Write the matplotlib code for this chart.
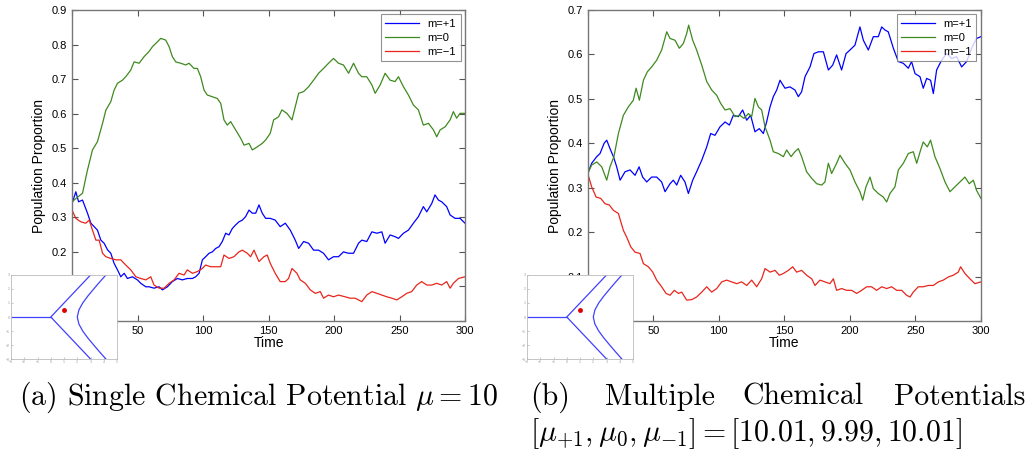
import numpy as np
import matplotlib
matplotlib.use('Agg')
import matplotlib.pyplot as plt

plt.rcParams['font.family'] = ['Liberation Sans', 'DejaVu Sans']
plt.rcParams['mathtext.fontset'] = 'cm'

# ---- (a) single chemical potential, readings (time, proportion) ----
a_plus_t = [0, 2.9, 5, 8, 11.8, 14.4, 16.9, 19.4, 22, 24.5, 27.1, 29.6, 32.1, 34.7,
            37.2, 39.8, 42.3, 46.1, 49.9, 52.5, 56.3, 58.8, 62.6, 66.5, 69, 72.8,
            76.6, 80.4, 84.2, 88, 91.9, 94.4, 97, 99.5, 102, 104.6, 107.1, 109.7,
            112.2, 114.7, 117.3, 119.8, 122.4, 124.9, 127.4, 130, 132.5, 135.1,
            137.6, 140.2, 142.7, 145.2, 147.8, 151.3, 155.1, 158.9, 162.8, 166.6,
            170.4, 173, 176.8, 180.6, 184.4, 188.2, 192, 195.8, 199.6, 203.4,
            207.2, 211.1, 214.9, 218.7, 221.2, 225, 228.9, 232.7, 236.5, 239,
            242.8, 246.6, 249.2, 253, 256.8, 260.6, 264.4, 268.2, 270.8, 274.6,
            277.1, 279.7, 282.2, 286, 288.6, 292.4, 296.2, 300]
a_plus = [0.34, 0.374, 0.345, 0.35, 0.312, 0.283, 0.273, 0.263, 0.234, 0.225, 0.206,
          0.196, 0.167, 0.148, 0.128, 0.138, 0.123, 0.128, 0.119, 0.109, 0.099,
          0.099, 0.095, 0.099, 0.09, 0.099, 0.114, 0.123, 0.119, 0.123, 0.123,
          0.128, 0.138, 0.177, 0.186, 0.196, 0.2, 0.21, 0.215, 0.23, 0.254, 0.249,
          0.268, 0.278, 0.287, 0.292, 0.302, 0.321, 0.312, 0.312, 0.336, 0.312,
          0.297, 0.297, 0.292, 0.273, 0.283, 0.263, 0.234, 0.21, 0.23, 0.225,
          0.205, 0.205, 0.196, 0.177, 0.186, 0.186, 0.2, 0.196, 0.196, 0.225,
          0.234, 0.23, 0.258, 0.254, 0.258, 0.225, 0.249, 0.244, 0.239, 0.254,
          0.263, 0.283, 0.302, 0.331, 0.316, 0.34, 0.365, 0.35, 0.345, 0.331,
          0.307, 0.297, 0.297, 0.283]

a_zero_t = [0, 8, 11.8, 15.6, 19.4, 23.3, 25.8, 29.6, 32.1, 34.7, 38.5, 41, 44.8,
            47.4, 51.2, 55, 58.8, 61.4, 65.2, 67.7, 71.5, 74.1, 76.6, 79.2, 83,
            86.8, 89.3, 93.1, 95.7, 98.2, 100.8, 103.3, 107.1, 110.9, 113.5, 116,
            118.5, 121.1, 124.9, 128.7, 131.3, 135.1, 137.6, 141.4, 145.2, 147.8,
            151.3, 153.9, 157.7, 160.2, 164, 167.9, 170.4, 173, 176.8, 180.6, 184.4,
            188.2, 192, 195.8, 199.6, 203.4, 207.2, 211.1, 214.9, 218.7, 221.2, 225,
            228.9, 231.4, 235.2, 239, 242.8, 246.6, 249.2, 253, 256.8, 260.6, 264.4,
            268.2, 272.1, 275.9, 278.4, 281, 284.8, 288.6, 291.1, 293.6, 296.2, 300]
a_zero = [0.345, 0.37, 0.437, 0.495, 0.519, 0.572, 0.61, 0.635, 0.668, 0.688, 0.697,
          0.707, 0.726, 0.75, 0.746, 0.765, 0.78, 0.794, 0.808, 0.818, 0.813, 0.794,
          0.765, 0.75, 0.746, 0.741, 0.746, 0.731, 0.731, 0.707, 0.668, 0.654,
          0.649, 0.644, 0.63, 0.582, 0.567, 0.577, 0.553, 0.529, 0.509, 0.514,
          0.495, 0.504, 0.514, 0.524, 0.543, 0.582, 0.591, 0.611, 0.601, 0.582,
          0.62, 0.659, 0.664, 0.678, 0.697, 0.717, 0.731, 0.746, 0.76, 0.746,
          0.741, 0.717, 0.746, 0.717, 0.707, 0.707, 0.683, 0.659, 0.683, 0.717,
          0.697, 0.693, 0.707, 0.678, 0.654, 0.625, 0.611, 0.567, 0.572, 0.553,
          0.533, 0.553, 0.562, 0.582, 0.606, 0.587, 0.601, 0.601]

a_minus_t = [0, 2.9, 6.7, 10.5, 13.1, 15.6, 18.2, 20.7, 23.3, 25.8, 29.6, 33.4, 37.2,
             41, 44.8, 48.7, 52.5, 56.3, 60.1, 62.6, 66.5, 70.3, 74.1, 77.9, 81.7,
             85.5, 88, 91.9, 95.7, 99.5, 102, 105.8, 109.7, 113.5, 116, 119.8, 123.6,
             127.4, 130, 133.8, 136.3, 138.9, 142.7, 146.5, 149, 151.3, 155.1, 158.9,
             162.8, 165.3, 167.9, 171.7, 174.2, 178.1, 181.9, 185.7, 189.5, 192,
             195.8, 199.6, 203.4, 208.5, 212.3, 216.1, 221.2, 225, 228.9, 232.7,
             236.5, 240.3, 244.1, 247.9, 251.7, 255.5, 259.3, 263.1, 266.9, 270.8,
             274.6, 278.4, 282.2, 286, 288.6, 291.1, 295, 300]
a_minus = [0.321, 0.297, 0.287, 0.283, 0.292, 0.263, 0.234, 0.234, 0.196, 0.186,
           0.181, 0.177, 0.177, 0.162, 0.148, 0.128, 0.123, 0.119, 0.128, 0.104,
           0.095, 0.095, 0.109, 0.119, 0.138, 0.133, 0.148, 0.138, 0.143, 0.152,
           0.162, 0.157, 0.157, 0.157, 0.191, 0.181, 0.186, 0.2, 0.205, 0.196,
           0.186, 0.205, 0.172, 0.186, 0.191, 0.167, 0.138, 0.114, 0.114, 0.123,
           0.152, 0.138, 0.119, 0.109, 0.09, 0.08, 0.085, 0.066, 0.075, 0.07,
           0.075, 0.07, 0.066, 0.066, 0.056, 0.075, 0.085, 0.08, 0.075, 0.07,
           0.066, 0.061, 0.07, 0.08, 0.085, 0.104, 0.114, 0.104, 0.104, 0.109,
           0.104, 0.114, 0.095, 0.109, 0.123, 0.128]

# ---- (b) multiple chemical potentials, readings (time, proportion) ----
b_plus_t = [0, 3, 6.9, 9.4, 12.5, 14.5, 17, 19.6, 22.1, 24.7, 28.5, 32.3, 36.1, 39.2,
            41.9, 45, 48.8, 52.6, 56.4, 59, 62.8, 65.3, 67.9, 70.9, 74.2, 76.8, 80.1,
            83.1, 87, 90.8, 93.8, 97.1, 100.9, 104.8, 108.1, 111.1, 114.9, 118.2,
            121.3, 124.3, 127.6, 130.9, 134, 136.5, 139.1, 141.6, 144.2, 146.7,
            150.5, 154.3, 158.1, 160.7, 163.2, 165.8, 169.6, 172.6, 176, 179.8,
            183.6, 186.9, 189.9, 193.7, 197.1, 200.1, 203.9, 207.7, 210.3, 214.1,
            217.9, 221.7, 224.3, 226.8, 229.3, 233.2, 237, 240.8, 244.6, 247.1,
            249.7, 253.5, 256, 258.6, 261.6, 263.7, 266.2, 270, 273.8, 277.7, 281.5,
            285.3, 289.1, 292.9, 296.7, 300]
b_plus = [0.332, 0.355, 0.37, 0.377, 0.4, 0.407, 0.388, 0.37, 0.347, 0.317, 0.336,
          0.34, 0.328, 0.347, 0.324, 0.313, 0.324, 0.324, 0.313, 0.291, 0.309,
          0.317, 0.306, 0.328, 0.313, 0.287, 0.317, 0.336, 0.362, 0.392, 0.422,
          0.418, 0.437, 0.448, 0.441, 0.463, 0.46, 0.475, 0.452, 0.463, 0.426,
          0.433, 0.422, 0.448, 0.482, 0.505, 0.52, 0.542, 0.524, 0.527, 0.52,
          0.505, 0.516, 0.55, 0.572, 0.602, 0.606, 0.606, 0.565, 0.576, 0.599,
          0.565, 0.602, 0.61, 0.621, 0.662, 0.632, 0.61, 0.64, 0.64, 0.662, 0.655,
          0.651, 0.614, 0.584, 0.58, 0.569, 0.584, 0.557, 0.55, 0.524, 0.546,
          0.542, 0.512, 0.565, 0.587, 0.602, 0.591, 0.595, 0.572, 0.584, 0.614,
          0.636, 0.64]

b_zero_t = [0, 3, 6.9, 10.7, 14.5, 17, 20, 23.4, 27.2, 31, 34.8, 36.9, 39.4, 42.5,
            45.5, 48.8, 52.6, 56.4, 60.3, 62.8, 66.6, 69.9, 73, 75.5, 77, 80.1, 83.1,
            87, 90.8, 94.6, 98.4, 101.4, 104.8, 108.6, 112.4, 116.2, 119.2, 122.6,
            125.1, 127.6, 130.2, 132.7, 135.3, 139.1, 141.6, 145.4, 149.3, 151.8,
            155.1, 158.1, 160.7, 163.2, 167, 170.9, 174.7, 178.5, 181, 183.6, 186.1,
            189.9, 192.5, 196.3, 200.1, 203.9, 207.7, 209.8, 212.3, 215.4, 217.9,
            221.7, 225.5, 228.1, 230.6, 234.4, 237, 240.8, 244.6, 248.4, 251, 254,
            256, 259.1, 261.6, 264.9, 268.8, 272.6, 276.4, 280.2, 284, 287.8, 291.1,
            294.2, 296.7, 300]
b_zero = [0.332, 0.351, 0.358, 0.347, 0.317, 0.347, 0.37, 0.422, 0.463, 0.482,
          0.497, 0.524, 0.497, 0.542, 0.561, 0.572, 0.587, 0.61, 0.651, 0.636,
          0.632, 0.614, 0.625, 0.647, 0.666, 0.632, 0.61, 0.576, 0.539, 0.52,
          0.508, 0.49, 0.475, 0.478, 0.46, 0.463, 0.456, 0.467, 0.46, 0.501, 0.482,
          0.475, 0.437, 0.407, 0.381, 0.377, 0.37, 0.385, 0.37, 0.381, 0.388, 0.37,
          0.336, 0.321, 0.309, 0.306, 0.313, 0.355, 0.332, 0.355, 0.373, 0.355,
          0.34, 0.313, 0.291, 0.272, 0.302, 0.324, 0.298, 0.287, 0.279, 0.268,
          0.287, 0.302, 0.34, 0.355, 0.377, 0.381, 0.355, 0.385, 0.403, 0.392,
          0.407, 0.37, 0.343, 0.313, 0.291, 0.302, 0.313, 0.324, 0.309, 0.317,
          0.294, 0.276]

b_minus_t = [0, 3, 6.4, 9.9, 13.2, 16.5, 19.6, 23.4, 27.2, 29.7, 32.8, 36.1, 39.9,
             42.5, 46.3, 49.6, 52.6, 56.4, 59.8, 62.8, 66.1, 69.2, 71.7, 75.5, 79.3,
             83.1, 87, 90.8, 94.6, 98.4, 102.2, 106, 109.8, 113.7, 117.5, 121.3,
             125.1, 128.9, 132.7, 135.3, 139.1, 142.9, 146.2, 149.3, 153.1, 156.4,
             159.4, 163.2, 167, 170.9, 173.4, 177.2, 181, 184.8, 187.4, 189.9, 193.7,
             197.6, 201.4, 205.2, 209, 212.8, 216.6, 220.4, 224.3, 228.1, 231.9,
             235.7, 239.5, 243.3, 245.9, 248.4, 252.2, 256, 259.9, 263.7, 267.5,
             271.3, 275.1, 278.9, 282.7, 284.5, 287.8, 291.6, 295.4, 300]
b_minus = [0.332, 0.302, 0.279, 0.276, 0.264, 0.261, 0.249, 0.242, 0.204, 0.189,
           0.167, 0.155, 0.152, 0.129, 0.122, 0.11, 0.092, 0.077, 0.062, 0.058,
           0.069, 0.062, 0.065, 0.047, 0.048, 0.054, 0.065, 0.077, 0.065, 0.073,
           0.088, 0.092, 0.088, 0.084, 0.088, 0.08, 0.092, 0.077, 0.095, 0.118,
           0.11, 0.114, 0.103, 0.107, 0.114, 0.122, 0.11, 0.114, 0.103, 0.095,
           0.08, 0.092, 0.088, 0.084, 0.095, 0.069, 0.073, 0.069, 0.069, 0.062,
           0.069, 0.077, 0.077, 0.069, 0.077, 0.073, 0.077, 0.069, 0.069, 0.058,
           0.054, 0.065, 0.077, 0.077, 0.08, 0.08, 0.088, 0.092, 0.099, 0.103,
           0.11, 0.122, 0.107, 0.095, 0.084, 0.088]

labels = ['m=+1', 'm=0', 'm=\u22121']
colors = ['#0000ff', '#3f8a1f', '#e8261c']

# inset sketch: axis branch, asymptote branches, hyperbola and the chosen point
branch_x = [-3, 0]
branch_y = [0, 0]
vee_x = [3, 0, 3]
vee_y = [3, 0, -3]
hyp_y = [-3, -2.5, -2, -1.5, -1, -0.5, 0, 0.5, 1, 1.5, 2, 2.5, 3]
hyp_x = [4.16, 3.69, 3.24, 2.80, 2.41, 2.12, 2.0, 2.12, 2.41, 2.80, 3.24, 3.69, 4.16]
point = (1, 0.5)

fig = plt.figure(figsize=(10.32, 4.5), dpi=100)

panels = [
    ([0.0698, 0.2867, 0.3808, 0.691],
     [(a_plus_t, a_plus), (a_zero_t, a_zero), (a_minus_t, a_minus)], 0.9),
    ([0.5695, 0.2867, 0.381, 0.691],
     [(b_plus_t, b_plus), (b_zero_t, b_zero), (b_minus_t, b_minus)], 0.7),
]
insets = [[0.0107, 0.2022, 0.1027, 0.1867], [0.5107, 0.2022, 0.1027, 0.1867]]

for (pos, series, ytop), ipos in zip(panels, insets):
    ax = fig.add_axes(pos)
    for (x, y), c, lab in zip(series, colors, labels):
        ax.plot(x, y, color=c, lw=0.9, label=lab)
    ax.set_xlim(0, 300)
    ax.set_ylim(0, ytop)
    ax.set_xticks(range(0, 301, 50))
    yt = np.arange(0, ytop + 0.001, 0.1)
    ax.set_yticks(yt)
    ax.set_yticklabels(['0'] + ['%.1f' % v for v in yt[1:]])
    ax.tick_params(direction='in', top=True, right=True, labelsize=8, length=4,
                   color='#555555', width=0.8)
    for sp in ax.spines.values():
        sp.set_color('#777777')
        sp.set_linewidth(1.0)
    ax.set_xlabel('Time', fontsize=10, labelpad=0)
    ax.set_ylabel('Population Proportion', fontsize=10, labelpad=4)
    leg = ax.legend(loc='upper right', fontsize=8, handlelength=3.0, fancybox=False,
                    edgecolor='#777777', borderaxespad=0.4, labelspacing=0.35)
    leg.get_frame().set_linewidth(0.8)

    ins = fig.add_axes(ipos)
    ins.plot(branch_x, branch_y, color='#4040ff', lw=0.9)
    ins.plot(vee_x, vee_y, color='#4040ff', lw=0.9)
    ins.plot(hyp_x, hyp_y, color='#4040ff', lw=0.9)
    ins.plot(*point, 'o', color='#e00000', ms=2.5)
    ins.set_xlim(-3, 5)
    ins.set_ylim(-3, 3)
    ins.set_xticks(range(-3, 6))
    ins.set_yticks(range(-3, 4))
    ins.tick_params(direction='in', labelsize=2.5, length=1.5, pad=1,
                    colors='#999999', width=0.4)
    for sp in ins.spines.values():
        sp.set_color('#bbbbbb')
        sp.set_linewidth(0.6)

cap = dict(fontsize=21.5, family='cmr10', va='center')
fig.text(0.018, 0.118, r'(a) Single Chemical Potential $\mu = 10$', ha='left', **cap)
fig.text(0.514, 0.118, '(b)', ha='left', **cap)
fig.text(0.640, 0.118, 'Multiple', ha='center', **cap)
fig.text(0.778, 0.118, 'Chemical', ha='center', **cap)
fig.text(0.994, 0.118, 'Potentials', ha='right', **cap)
fig.text(0.514, 0.036, r'$[\mu_{+1}, \mu_0, \mu_{-1}] = [10.01, 9.99, 10.01]$', ha='left', **cap)

fig.savefig('out.png', dpi=100)
